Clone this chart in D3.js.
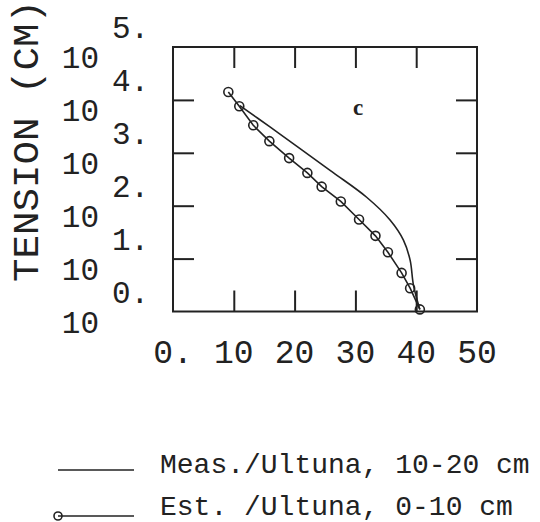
<!DOCTYPE html>
<html>
<head>
<meta charset="utf-8">
<script src="https://cdn.jsdelivr.net/npm/d3@7"></script>
<style>
  html, body { margin: 0; padding: 0; background: #fff; }
  svg { display: block; }
  text { font-family: "Liberation Mono", "DejaVu Sans Mono", monospace; fill: #222; }
</style>
</head>
<body>
<script>
// Water retention: water content (%) vs log10 tension (cm)
const xTicks = [0, 10, 20, 30, 40, 50];
const xTickLabels = ["0.", "10", "20", "30", "40", "50"];
const yTicks = [0, 1, 2, 3, 4, 5];
const yExpLabels = ["0.", "1.", "2.", "3.", "4.", "5."];

// Measured curve, Ultuna 10-20 cm
const measWater = [11.0, 15.95, 20.9, 26.3, 31.85, 35.7, 37.9, 39.0, 39.55, 40.6];
const measLogH  = [3.89, 3.49, 3.08, 2.63, 2.16, 1.73, 1.35, 0.97, 0.5, 0.04];

// Estimated curve, Ultuna 0-10 cm
const estWater = [9.1, 10.9, 13.2, 15.85, 19.1, 22.1, 24.45, 27.6, 30.6, 33.3, 35.35, 37.6, 39.0, 40.6];
const estLogH  = [4.15, 3.88, 3.52, 3.22, 2.9, 2.62, 2.36, 2.08, 1.74, 1.43, 1.12, 0.73, 0.44, 0.04];

const legendLabels = ["Meas./Ultuna, 10-20 cm", "Est. /Ultuna, 0-10 cm"];
const panelLetter = "c";

const W = 540, H = 522;
const svg = d3.select("body").append("svg").attr("width", W).attr("height", H);

const x = d3.scaleLinear().domain([0, 50]).range([173, 477]);
const y = d3.scaleLinear().domain([0, 5]).range([311.5, 47]);
const ink = "#222";

// inward ticks on all four sides
const tick = 21;
const axes = [
  [d3.axisBottom(x), `translate(0,${y(0)})`],
  [d3.axisTop(x), `translate(0,${y(5)})`],
  [d3.axisLeft(y), `translate(${x(0)},0)`],
  [d3.axisRight(y), `translate(${x(50)},0)`]
];
axes.forEach(([ax, tr], i) => {
  const vals = i < 2 ? xTicks.slice(1, -1) : yTicks.slice(1, -1);
  const g = svg.append("g").attr("transform", tr)
    .call(ax.tickValues(vals).tickSize(-tick).tickFormat(""));
  g.select(".domain").remove();
  g.selectAll("line").attr("stroke", ink).attr("stroke-width", 2);
});

// frame
svg.append("rect")
  .attr("x", x(0)).attr("y", y(5))
  .attr("width", x(50) - x(0)).attr("height", y(0) - y(5))
  .attr("fill", "none").attr("stroke", ink).attr("stroke-width", 2);

// x tick labels
svg.append("g").selectAll("text").data(xTicks).join("text")
  .attr("x", d => x(d)).attr("y", 363)
  .attr("text-anchor", "middle").attr("font-size", 33)
  .text((d, i) => xTickLabels[i]);

// y tick labels: "10" with exponent above
const yl = svg.append("g");
yl.selectAll("text.base").data(yTicks).join("text").attr("class", "base")
  .attr("x", 99).attr("y", d => y(d) + 21)
  .attr("text-anchor", "end").attr("font-size", 31)
  .text("10");
yl.selectAll("text.exp").data(yTicks).join("text").attr("class", "exp")
  .attr("x", 112).attr("y", d => y(d) - 9)
  .attr("text-anchor", "start").attr("font-size", 31)
  .text((d, i) => yExpLabels[i]);

// y axis title
svg.append("text")
  .attr("transform", "translate(38,141) rotate(-90)")
  .attr("text-anchor", "middle").attr("font-size", 37)
  .attr("textLength", 282).attr("lengthAdjust", "spacingAndGlyphs")
  .text("TENSION (CM)");

// measured curve
const meas = measWater.map((w, i) => [w, measLogH[i]]);
svg.append("path").datum(meas)
  .attr("fill", "none").attr("stroke", ink).attr("stroke-width", 1.6)
  .attr("d", d3.line().x(d => x(d[0])).y(d => y(d[1])).curve(d3.curveCatmullRom.alpha(0.5)));

// estimated curve with circle markers
const est = estWater.map((w, i) => [w, estLogH[i]]);
svg.append("path").datum(est)
  .attr("fill", "none").attr("stroke", ink).attr("stroke-width", 1.6)
  .attr("d", d3.line().x(d => x(d[0])).y(d => y(d[1])));
svg.append("g").selectAll("circle").data(est).join("circle")
  .attr("cx", d => x(d[0])).attr("cy", d => y(d[1])).attr("r", 4.5)
  .attr("fill", "none").attr("stroke", ink).attr("stroke-width", 1.6);

// panel letter
svg.append("text")
  .attr("x", 358).attr("y", 115).attr("text-anchor", "middle")
  .style("font-family", "'Liberation Serif', 'DejaVu Serif', serif")
  .style("font-weight", "bold").attr("font-size", 23)
  .text(panelLetter);

// legend
const legY = [470, 516];
const lg = svg.append("g");
lg.selectAll("line").data(legY).join("line")
  .attr("x1", 58).attr("x2", 134).attr("y1", d => d).attr("y2", d => d)
  .attr("stroke", ink).attr("stroke-width", 1.6);
lg.append("circle").attr("cx", 58).attr("cy", legY[1]).attr("r", 4)
  .attr("fill", "none").attr("stroke", ink).attr("stroke-width", 1.6);
lg.selectAll("text").data(legendLabels).join("text")
  .attr("x", 160).attr("y", (d, i) => legY[i] + (i ? -1 : 3))
  .attr("font-size", 28)
  .text(d => d);
</script>
</body>
</html>
